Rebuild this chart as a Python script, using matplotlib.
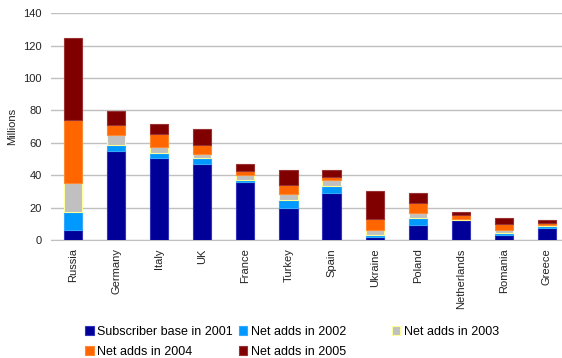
import numpy as np
import matplotlib
matplotlib.use("Agg")
import matplotlib.pyplot as plt

plt.rcParams["font.family"] = ["Liberation Sans", "DejaVu Sans"]

countries = ["Russia", "Germany", "Italy", "UK", "France", "Turkey", "Spain",
             "Ukraine", "Poland", "Netherlands", "Romania", "Greece"]
base_2001 = [6.2, 55.0, 50.8, 46.9, 36.0, 20.0, 29.0, 2.0, 9.3, 12.1, 3.3, 7.6]
adds_2002 = [11.3, 3.6, 2.9, 3.9, 1.0, 4.9, 4.3, 1.3, 4.5, 0.4, 1.0, 1.2]
adds_2003 = [17.7, 6.2, 3.9, 2.5, 3.3, 3.5, 3.7, 2.9, 2.9, 0.5, 1.9, 0.6]
adds_2004 = [38.8, 6.2, 7.8, 5.3, 2.3, 5.6, 1.9, 6.8, 6.1, 2.4, 3.7, 1.1]
adds_2005 = [51.0, 8.6, 6.0, 9.9, 4.3, 9.2, 4.3, 17.4, 6.4, 1.7, 3.7, 1.8]

series = [
    ("Subscriber base in 2001", base_2001, "#000099", "#3333bb"),
    ("Net adds in 2002", adds_2002, "#0099ff", "#33aaff"),
    ("Net adds in 2003", adds_2003, "#c0c0c0", "#ffff99"),
    ("Net adds in 2004", adds_2004, "#ff6600", "#ff8833"),
    ("Net adds in 2005", adds_2005, "#800000", "#993333"),
]

fig = plt.figure(figsize=(5.62, 3.58), dpi=100)
ax = fig.add_axes((0.0916, 0.3296, 0.920, 0.6332))

x = np.arange(len(countries))
bottom = np.zeros(len(countries))
handles = []
for label, vals, color, edge in series:
    vals = np.array(vals)
    h = ax.bar(x, vals, width=0.42, bottom=bottom, color=color,
               edgecolor=edge, linewidth=0.8, label=label, zorder=3)
    handles.append(h)
    bottom += vals

ax.set_xlim(-0.5, len(countries) - 0.5)
ax.set_ylim(0, 140)
ax.set_yticks(range(0, 141, 20))
ax.tick_params(axis="y", labelsize=8, length=0, pad=7, colors="#222222")
ax.tick_params(axis="x", labelsize=8, length=0, pad=6, colors="#222222")
ax.set_xticks(x)
ax.set_xticklabels(countries, rotation=90, va="top", ha="center")
ax.set_ylabel("Millions", fontsize=8, labelpad=4, color="#222222")
ax.grid(axis="y", color="#c0c0c0", linewidth=1, zorder=0)
for side in ["top", "right", "left"]:
    ax.spines[side].set_visible(False)
ax.spines["bottom"].set_color("#c0c0c0")

legend_kw = dict(frameon=False, fontsize=9, handlelength=0.7, handleheight=0.7,
                 handletextpad=0.3, labelspacing=0.6, borderaxespad=0)
leg1 = fig.legend([handles[0], handles[3], handles[1], handles[4]],
                  [series[0][0], series[3][0], series[1][0], series[4][0]],
                  ncol=2, columnspacing=0.45, loc="upper left",
                  bbox_to_anchor=(0.142, 0.103), **legend_kw)
leg2 = fig.legend([handles[2]], [series[2][0]], loc="upper left",
                  bbox_to_anchor=(0.688, 0.103), **legend_kw)

fig.savefig("out.png", dpi=100)
